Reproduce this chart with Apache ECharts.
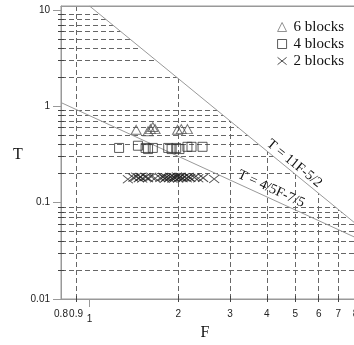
<!DOCTYPE html>
<html><head><meta charset="utf-8">
<script src="https://cdn.jsdelivr.net/npm/echarts@6/dist/echarts.min.js"></script>
<style>html,body{margin:0;padding:0;background:#fff}#c{width:354px;height:345px}</style>
</head><body><div id="c"></div>
<script>
// ---- data ----
const blocks6 = [[1.44,0.57],[1.58,0.55],[1.61,0.58],[1.64,0.61],[1.67,0.58],[1.99,0.57],[2.05,0.58],[2.15,0.58]];
const blocks4 = [[1.26,0.37],[1.46,0.39],[1.55,0.37],[1.58,0.36],[1.64,0.37],[1.85,0.37],[1.90,0.36],[1.97,0.37],[2.02,0.36],[2.15,0.38],[2.22,0.38],[2.42,0.38]];
const blocks2 = [[1.35,0.175],[1.41,0.182],[1.44,0.186],[1.47,0.180],[1.49,0.185],[1.51,0.178],[1.55,0.184],[1.58,0.180],[1.62,0.186],[1.67,0.179],[1.74,0.181],[1.78,0.185],[1.80,0.177],[1.82,0.183],[1.86,0.180],[1.88,0.186],[1.91,0.178],[1.93,0.184],[1.95,0.181],[1.98,0.187],[2.00,0.178],[2.02,0.183],[2.04,0.186],[2.07,0.180],[2.10,0.184],[2.14,0.179],[2.17,0.185],[2.20,0.181],[2.27,0.183],[2.34,0.179],[2.43,0.181],[2.65,0.176]];
const lineSteep = [[1.0,11],[10,0.0348]];      // T = 11F^-5/2
const lineShallow = [[0.8,1.094],[10,0.0318]]; // T = 4/5F^-7/5
const xLabelValues = [0.8,0.9,2,3,4,5,6,7,8];
const xMinorValues = [0.9,2,3,4,5,6,7,8,9];
const xMajorValues = [1,10];
const yLabelValues = [0.01,0.1,1,10];
const yMinorValues = [0.02,0.03,0.04,0.05,0.06,0.07,0.08,0.09,0.2,0.3,0.4,0.5,0.6,0.7,0.8,0.9,2,3,4,5,6,7,8,9];
const yMajorValues = [0.01,0.1,1,10];
const legendNames = ['6 blocks','4 blocks','2 blocks'];

const SANS = '"Liberation Sans", Arial, sans-serif';
const SERIF = '"Liberation Serif", "Times New Roman", serif';
const tickCol = '#444';
const lab = {fontFamily: SANS, fontSize: 10, color: '#222', hideOverlap:false};

function xBase(extra){ return Object.assign({type:'log', logBase:10, min:0.8, max:10, position:'bottom', gridIndex:0,
  axisLine:{show:false}, axisTick:{show:false}, axisLabel:{show:false}, splitLine:{show:false}}, extra); }
function yBase(extra){ return Object.assign({type:'log', logBase:10, min:0.01, max:11, position:'left', gridIndex:0,
  axisLine:{show:false}, axisTick:{show:false}, axisLabel:{show:false}, splitLine:{show:false}}, extra); }

const chart = echarts.init(document.getElementById('c'), null, {renderer:'canvas'});
const X_ICON = 'path://M0,0L10,8M10,0L0,8';
const hollow = c => ({color:'rgba(0,0,0,0)', borderColor:c, borderWidth:1});
chart.setOption({
  animation:false,
  backgroundColor:'#fff',
  grid:{left:61, top:6, width:323, height:293, outerBoundsMode:'none', containLabel:false,
    show:true, borderColor:'#999', borderWidth:1},
  legend:{orient:'vertical', right:5, top:14, itemWidth:9, itemHeight:9, itemGap:1, z:20,
    data:[
      {name:legendNames[0], icon:'triangle', itemStyle:hollow('#777')},
      {name:legendNames[1], icon:'rect', itemStyle:hollow('#333')},
      {name:legendNames[2], icon:X_ICON, itemStyle:hollow('#222')}
    ],
    textStyle:{fontFamily:SERIF, fontSize:15, lineHeight:16, color:'#111', padding:[0,0,0,2]}},
  xAxis:[
    xBase({axisLine:{show:true, lineStyle:{color:'#999'}},
      axisTick:{show:true, inside:true, length:3, customValues:xMinorValues, lineStyle:{color:tickCol}},
      splitLine:{show:true, lineStyle:{color:'#666', type:[5,3], width:1}},
      axisLabel:Object.assign({show:true, margin:10, showMinLabel:true, showMaxLabel:true, customValues:xLabelValues}, lab)}),
    xBase({axisTick:{show:true, inside:false, length:3, customValues:xMinorValues, lineStyle:{color:tickCol}}}),
    xBase({axisTick:{show:true, inside:false, length:8, customValues:xMajorValues, lineStyle:{color:'#999'}},
      axisLabel:Object.assign({show:true, margin:15, customValues:[1]}, lab)}),
    xBase({position:'top', z:10, axisLine:{show:true, lineStyle:{color:'#999'}}})
  ],
  yAxis:[
    yBase({axisLine:{show:true, lineStyle:{color:'#999'}},
      axisTick:{show:true, inside:true, length:3, customValues:yMinorValues, lineStyle:{color:tickCol}},
      splitLine:{show:true, lineStyle:{color:'#666', type:[5,3], width:1}},
      axisLabel:Object.assign({show:true, margin:11, customValues:yLabelValues}, lab)}),
    yBase({axisTick:{show:true, inside:false, length:3, customValues:yMinorValues, lineStyle:{color:tickCol}}}),
    yBase({axisTick:{show:true, inside:false, length:8, customValues:yMajorValues, lineStyle:{color:'#999'}}})
  ],
  series:[
    {name:'6 blocks', type:'scatter', data:blocks6, symbol:'triangle', symbolSize:[10,9], itemStyle:hollow('#555'), z:5},
    {name:'4 blocks', type:'scatter', data:blocks4, symbol:'rect', symbolSize:9, itemStyle:hollow('#333'), z:5},
    {name:'2 blocks', type:'scatter', data:blocks2, symbol:X_ICON, symbolSize:[10,8], itemStyle:hollow('#222'), z:5},
    {type:'line', data:lineSteep, showSymbol:false, symbol:'none', lineStyle:{color:'#999', width:1},
      areaStyle:{origin:'end', color:'#fff', opacity:1}, z:3, silent:true},
    {type:'line', data:lineShallow, showSymbol:false, symbol:'none', lineStyle:{color:'#999', width:1}, z:3, silent:true}
  ]
});

// annotations placed through the axes' scales
const pA = chart.convertToPixel({gridIndex:0}, [4.96, 0.2007]);
const pB = chart.convertToPixel({gridIndex:0}, [4.14, 0.1094]);
chart.setOption({graphic:[
  {type:'text', x:pA[0], y:pA[1]-10, rotation:-39.3*Math.PI/180, z:20,
    style:{text:'T = 11F-5/2', font:'14px '+SERIF, fill:'#111', align:'center', verticalAlign:'middle'}},
  {type:'text', x:pB[0], y:pB[1]-10, rotation:-24.6*Math.PI/180, z:20,
    style:{text:'T = 4/5F-7/5', font:'14px '+SERIF, fill:'#111', align:'center', verticalAlign:'middle'}},
  {type:'text', x:18, y:155, style:{text:'T', font:'16px '+SERIF, fill:'#111', align:'center', verticalAlign:'middle'}},
  {type:'text', x:205, y:333, style:{text:'F', font:'16px '+SERIF, fill:'#111', align:'center', verticalAlign:'middle'}}
]});
</script>
</body></html>
